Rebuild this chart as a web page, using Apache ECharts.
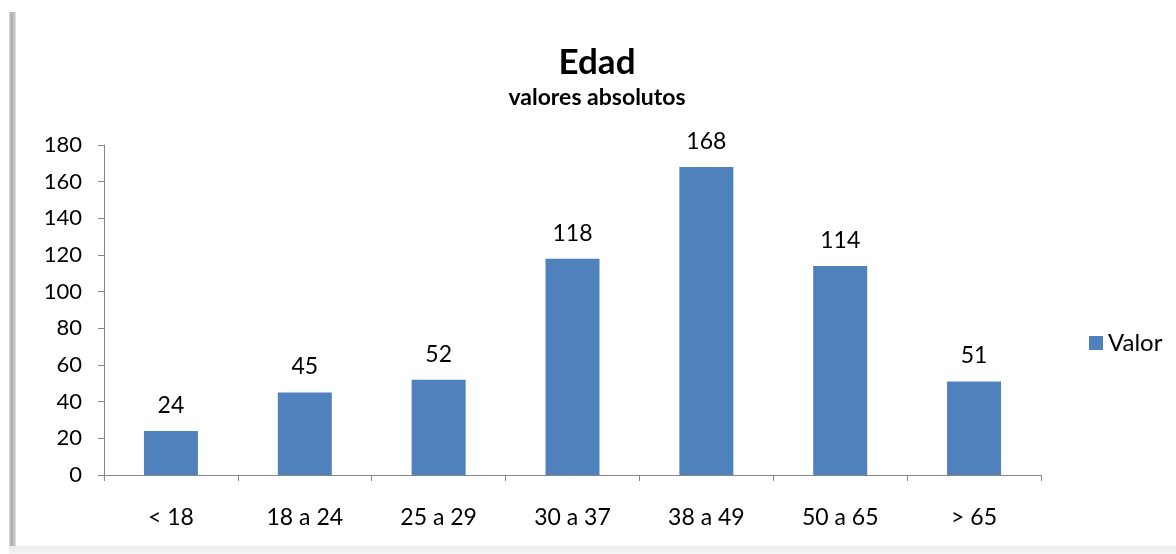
<!DOCTYPE html>
<html><head><meta charset="utf-8">
<script src="https://cdn.jsdelivr.net/npm/echarts@6/dist/echarts.min.js"></script>
<style>
html,body{margin:0;padding:0;background:#fff;}
#frame{position:absolute;left:0;top:0;width:1176px;height:554px;}
#shadowL{position:absolute;left:9px;top:12px;width:7px;height:542px;background:linear-gradient(to right,#d8d8d8,#a8a8a8 40%,#e0e0e0);}
#shadowB{position:absolute;left:9px;top:546px;width:1167px;height:8px;background:linear-gradient(to bottom,#ececec,#f4f4f4);}
#chart{position:absolute;left:0;top:0;width:1176px;height:554px;}
</style></head>
<body>
<div id="frame"><div id="shadowL"></div><div id="shadowB"></div><div id="chart"></div></div>
<script>
const categories = ['< 18','18 a 24','25 a 29','30 a 37','38 a 49','50 a 65','> 65'];
const values = [24,45,52,118,168,114,51];
const seriesName = 'Valor';
const titleText = 'Edad';
const subtitleText = 'valores absolutos';

const chart = echarts.init(document.getElementById('chart'), null, {renderer:'canvas'});
const font = 'Lato, "Open Sans", sans-serif';
chart.setOption({
  animation:false,
  title:{
    text:titleText, subtext:subtitleText, left:592, textAlign:'center', top:40, itemGap:6,
    textStyle:{fontFamily:font,fontSize:35,fontWeight:'bold',color:'#000'},
    subtextStyle:{fontFamily:font,fontSize:23,fontWeight:'bold',color:'#000'}
  },
  legend:{
    data:[seriesName], left:1084, top:326, orient:'vertical',
    itemWidth:14, itemHeight:14, itemGap:8,
    textStyle:{fontFamily:font,fontSize:24,color:'#000'},
    icon:'rect'
  },
  grid:{left:104,right:135,top:145,bottom:79,containLabel:false},
  xAxis:{
    type:'category', data:categories,
    axisLine:{lineStyle:{color:'#868686',width:1}},
    axisTick:{show:true,alignWithLabel:false,length:6,lineStyle:{color:'#868686'}},
    axisLabel:{fontFamily:font,fontSize:23,color:'#000',margin:31}
  },
  yAxis:{
    type:'value', min:0, max:180, interval:20,
    axisLine:{show:true,lineStyle:{color:'#868686',width:1}},
    axisTick:{show:true,length:6,lineStyle:{color:'#868686'}},
    splitLine:{show:false},
    axisLabel:{fontFamily:font,fontSize:22,color:'#000',margin:22}
  },
  series:[{
    name:seriesName, type:'bar', data:values, barWidth:54,
    itemStyle:{color:'#4F81BD'},
    label:{show:true,position:'top',distance:14,fontFamily:font,fontSize:23,color:'#000'}
  }]
});
</script>
</body></html>
